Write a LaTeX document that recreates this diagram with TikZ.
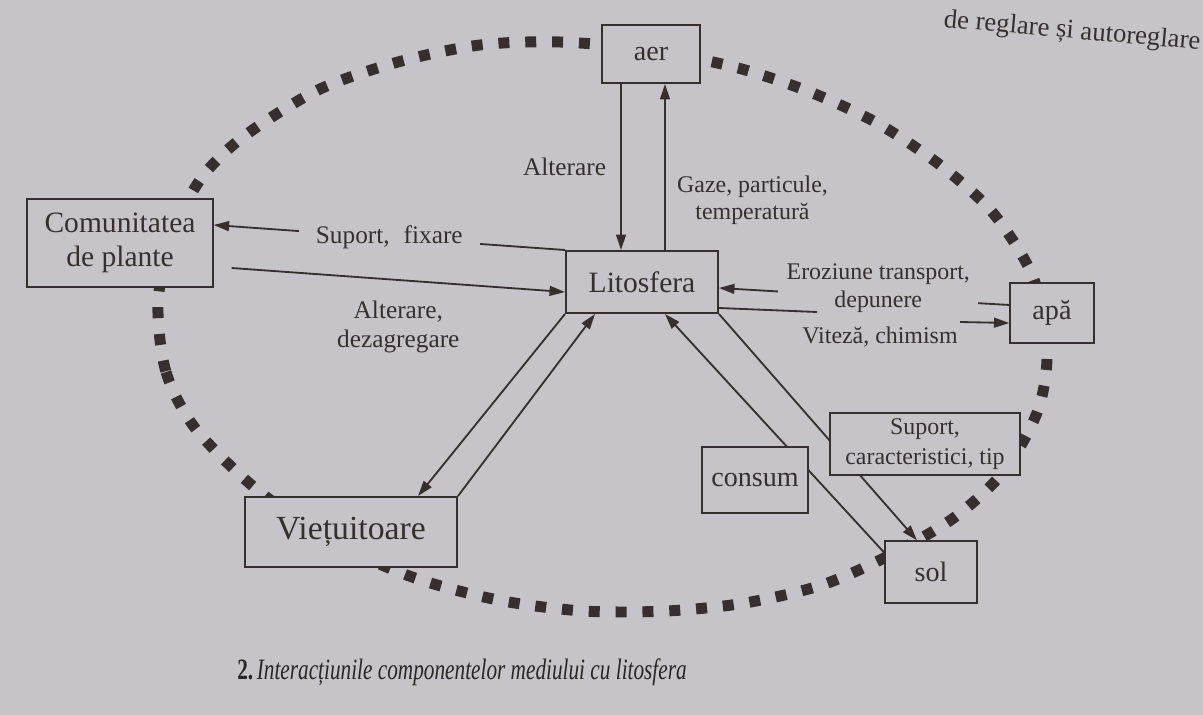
\documentclass[tikz,border=0pt]{standalone}
\usepackage{fontspec}
\usepackage{graphicx}
\setmainfont{Liberation Serif}
\usetikzlibrary{arrows.meta,calc}

\definecolor{paper}{RGB}{199,195,200}
\definecolor{ink}{RGB}{55,47,47}

\tikzset{
  box/.style={draw=ink,line width=1.4pt,fill=paper,text=ink,align=center,inner sep=0pt,font=\fontsize{20}{23}\selectfont},
  lbl/.style={text=ink,align=center,inner sep=2pt,font=\fontsize{17}{20}\selectfont},
  arr/.style={draw=ink,line width=1.3pt,-{Triangle[length=11pt,width=7pt]}},
  link/.style={draw=ink,line width=1.3pt},
  dots/.style={draw=ink,line width=7.8pt,dash pattern=on 7.8pt off 11.3pt}
}

\begin{document}
\begin{tikzpicture}[x=0.025cm,y=-0.025cm]

  \fill[paper] (0,0) rectangle (1203,715);
  \useasboundingbox (0,0) rectangle (1203,715);

  \draw[dots] plot[smooth cycle] coordinates {
    (158,305) (166,372) (195,428) (255,488) (330,540) (412,577) (498,600)
    (583,611) (667,611) (745,603) (822,585) (890,555) (955,517) (1005,470)
    (1038,410) (1047,350) (1033,277) (993,213) (940,165) (877,123) (810,92)
    (738,68) (650,50) (560,42) (480,45) (398,62) (318,90) (243,137) (200,180)
    (170,240)};

  \node (aer) at (651,54) [box,minimum width=2.43cm,minimum height=1.45cm] {aer};
  \node (lito) at (642,282) [box,minimum width=3.8cm,minimum height=1.55cm,font=\fontsize{21}{24}\selectfont] {Litosfera};
  \node (plante) at (120,243) [box,minimum width=4.63cm,minimum height=2.18cm,font=\fontsize{21}{24}\selectfont] {Comunitatea\\de plante};
  \node (apa) at (1052,313) [box,minimum width=2.08cm,minimum height=1.5cm] {apă};
  \node (viet) at (351,532) [box,minimum width=5.3cm,minimum height=1.75cm,font=\fontsize{24}{28}\selectfont] {Viețuitoare};
  \node (sol) at (931,572) [box,minimum width=2.3cm,minimum height=1.53cm] {sol};

  \coordinate (vitA) at (817,312);
  \coordinate (vitB) at (960,322);

  \draw[arr] (aer.south -| 621,0) -- node[lbl,left=8pt,font=\fontsize{18}{21}\selectfont] {Alterare} (lito.north -| 621,0);
  \draw[arr] (lito.north -| 665,0) -- node[lbl,right=6pt,pos=0.3,font=\fontsize{17}{19}\selectfont] {Gaze, particule,\\temperatură} (aer.south -| 665,0);
  \draw[arr] (lito.north west) -- node[lbl,fill=paper,inner xsep=12pt,font=\fontsize{18}{21}\selectfont] {Suport,\hspace{0.55em}fixare} ($(plante.east)+(0,-18)$);
  \draw[arr] ($(plante.east)+(18,25)$) -- node[lbl,below=12pt,font=\fontsize{18}{21}\selectfont] {Alterare,\\dezagregare} ($(lito.west)+(0,10)$);
  \draw[arr] ($(apa.west)+(0,-8)$) -- node[lbl,fill=paper,inner xsep=6pt,yshift=6pt,xshift=10pt] {Eroziune transport,\\depunere} ($(lito.east)+(0,6)$);
  \draw[link] ($(lito.east)+(0,26)$) -- (vitA);
  \draw[arr] (vitB) -- ($(apa.west)+(0,10)$);
  \node[lbl] at (880,337) {Viteză, chimism};

  \draw[arr] (lito.south west) -- (viet.north -| 418,0);
  \draw[arr] (viet.north east) -- (lito.south -| 595,0);
  \draw[arr] ($(sol.north west)+(0,12)$) -- (lito.south -| 665,0);
  \draw[arr] (lito.south east) -- (sol.north -| 917,0);

  \node (consum) at (755,480) [box,minimum width=2.63cm,minimum height=1.65cm] {consum};
  \node (caract) at (925,444) [box,minimum width=4.75cm,minimum height=1.55cm,font=\fontsize{17}{21}\selectfont] {Suport,\\caracteristici, tip};

  \node (capt) at (462,672) [text=ink!80!black,font=\fontsize{21}{24}\selectfont] {\scalebox{0.72}[1]{\textbf{2.}\,\textit{Interacțiunile componentelor mediului cu litosfera}}};
  \node (sus) at (1072,32) [text=ink,rotate=-5,font=\fontsize{19}{22}\selectfont] {de reglare și autoreglare};

\end{tikzpicture}
\end{document}
